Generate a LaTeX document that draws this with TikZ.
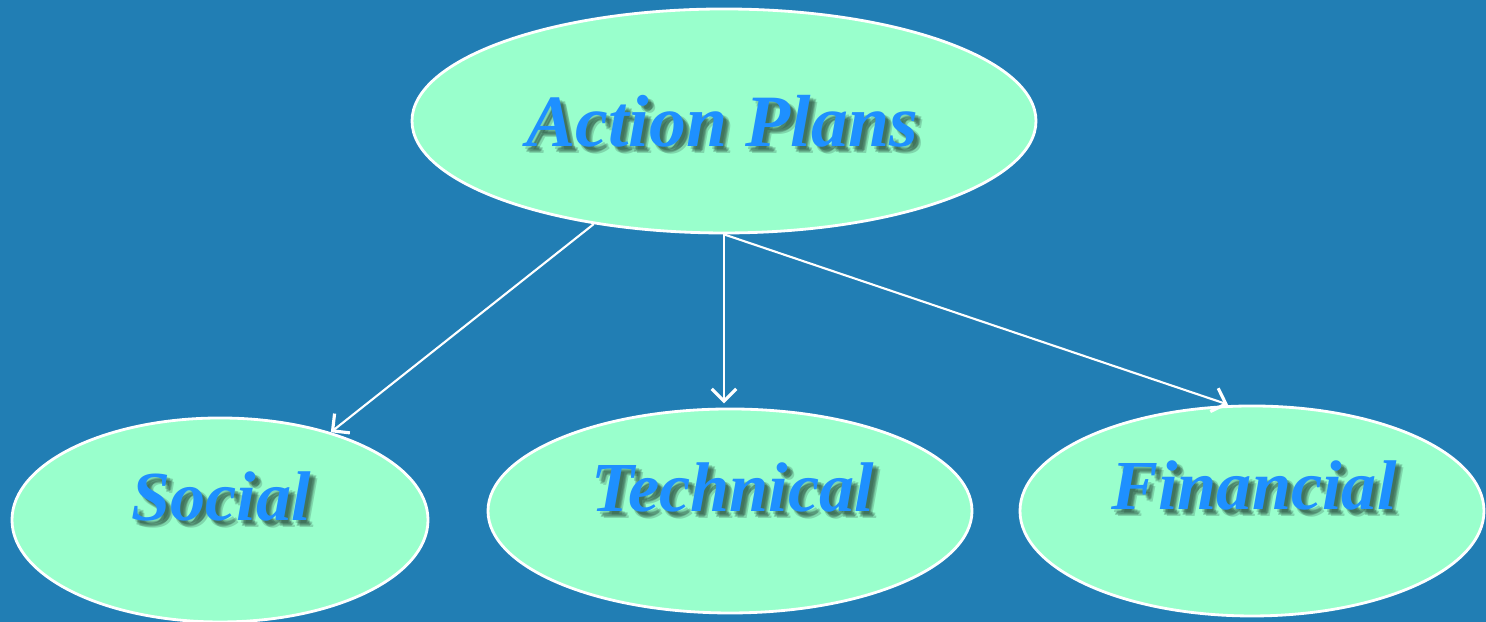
\documentclass[tikz,border=0pt]{standalone}
\usepackage{fontspec}
\setmainfont{Liberation Serif}
\usetikzlibrary{shapes.geometric,arrows.meta}

\definecolor{bgblue}{RGB}{33,126,180}
\definecolor{mint}{RGB}{153,255,204}
\definecolor{lblblue}{RGB}{30,144,255}
\definecolor{shade}{RGB}{25,50,40}

\begin{document}
\begin{tikzpicture}[
    oval/.style={ellipse,draw=white,fill=mint,line width=0.8pt,inner sep=0pt},
    lbl/.style={text=lblblue,inner sep=0pt,
      font=\fontsize{20}{24}\selectfont\bfseries\itshape},
    biglbl/.style={lbl,font=\fontsize{21}{25}\selectfont\bfseries\itshape},
    shadowed/.style={text=shade,text opacity=0.2},
    link/.style={draw=white,line width=0.6pt,
      -{Straight Barb[length=3.5pt,width=7pt,line width=0.9pt]}}
  ]

  \fill[bgblue] (0,0) rectangle (14.86,6.22);
  \useasboundingbox (0,0) rectangle (14.86,6.22);

  \begin{scope}[every node/.style={oval}]
    \node[minimum width=6.24cm,minimum height=2.24cm] (plans)  at (7.24,5.01) {};
    \node[minimum width=4.16cm,minimum height=2.04cm] (social) at (2.20,1.02) {};
    \node[minimum width=4.84cm,minimum height=2.04cm] (tech)   at (7.30,1.11) {};
    \node[minimum width=4.64cm,minimum height=2.10cm] (fin)    at (12.52,1.11) {};
  \end{scope}

  % soft shadows behind the texts
  \foreach \dx/\dy [count=\i] in {0.03/-0.03,0.05/-0.05,0.04/-0.06,0.06/-0.04,0.07/-0.07} {
    \node[biglbl,shadowed] (plans-sh\i)  at (7.22+\dx,5.01+\dy) {Action Plans};
    \node[lbl,shadowed]    (social-sh\i) at (2.21+\dx,1.26+\dy) {Social};
    \node[lbl,shadowed]    (tech-sh\i)   at (7.33+\dx,1.35+\dy) {Technical};
    \node[lbl,shadowed]    (fin-sh\i)    at (12.54+\dx,1.37+\dy) {Financial};
  }

  \node[biglbl] (plans-t)  at (7.22,5.01) {Action Plans};
  \node[lbl]    (social-t) at (2.21,1.26) {Social};
  \node[lbl]    (tech-t)   at (7.33,1.35) {Technical};
  \node[lbl]    (fin-t)    at (12.54,1.37) {Financial};

  \path[link] (plans) -- (social);
  \path[link] (plans.south) -- ([yshift=1.2pt]plans.south |- tech.north);
  \path[link] (plans.south) -- ([xshift=-0.24cm]fin.north);

\end{tikzpicture}
\end{document}
